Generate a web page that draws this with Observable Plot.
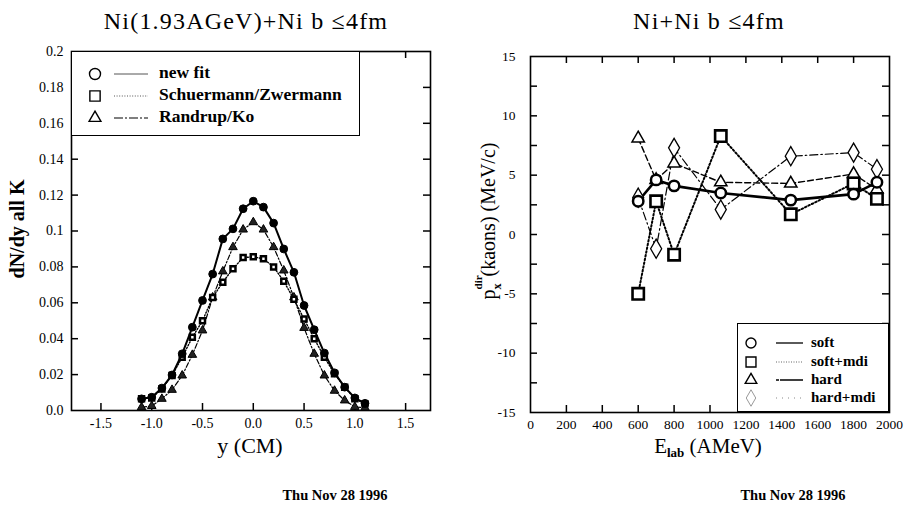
<!DOCTYPE html>
<html>
<head>
<meta charset="utf-8">
<script src="https://cdn.jsdelivr.net/npm/d3@7"></script>
<script src="https://cdn.jsdelivr.net/npm/@observablehq/plot@0.6"></script>
<style>
  body { margin: 0; background: #fff; }
  #wrap { position: relative; width: 908px; height: 505px; overflow: hidden;
          font-family: "Liberation Serif", "Times New Roman", serif; color: #000; }
  .abs { position: absolute; white-space: nowrap; line-height: 1; }
  .plot { position: absolute; top: 0; }
  .legend { position: absolute; border: 1.5px solid #000; background: #fff; box-sizing: border-box; }
  .legend .t { position: absolute; white-space: nowrap; line-height: 1; font-weight: bold; }
  .legend svg { position: absolute; left: 0; top: 0; overflow: visible; }
</style>
</head>
<body>
<div id="wrap"></div>
<script>
// ---------- Left panel data: dN/dy of all kaons vs rapidity y (CM) ----------
const leftY = [-1.1, -1.0, -0.9, -0.8, -0.7, -0.6, -0.5, -0.4, -0.3, -0.2, -0.1, 0.0,
               0.1, 0.2, 0.3, 0.4, 0.5, 0.6, 0.7, 0.8, 0.9, 1.0, 1.1];
const newFit = [0.0065, 0.0074, 0.0125, 0.0198, 0.0316, 0.0464, 0.0613, 0.0760, 0.0956, 0.1012, 0.1124, 0.1166,
                0.1133, 0.1044, 0.0900, 0.0770, 0.0585, 0.0450, 0.0320, 0.0210, 0.0130, 0.0070, 0.0040];
const schuermann = [0.0065, 0.0070, 0.0120, 0.0195, 0.0297, 0.0408, 0.0500, 0.0630, 0.0715, 0.0790, 0.0852, 0.0856,
                    0.0845, 0.0800, 0.0720, 0.0620, 0.0510, 0.0400, 0.0297, 0.0204, 0.0130, 0.0065, 0.0037];
const randrup = [0.0018, 0.0025, 0.0065, 0.0115, 0.0195, 0.0310, 0.0446, 0.0630, 0.0775, 0.0910, 0.1008, 0.1049,
                 0.1008, 0.0910, 0.0780, 0.0630, 0.0460, 0.0316, 0.0195, 0.0110, 0.0056, 0.0020, 0.0015];
const leftXTicks = [-1.5, -1.0, -0.5, 0.0, 0.5, 1.0, 1.5];
const leftXTickLabels = ["-1.5", "-1.0", "-0.5", "0.0", "0.5", "1.0", "1.5"];
const leftYTicks = [0, 0.02, 0.04, 0.06, 0.08, 0.1, 0.12, 0.14, 0.16, 0.18, 0.2];
const leftYTickLabels = ["0.0", "0.02", "0.04", "0.06", "0.08", "0.1", "0.12", "0.14", "0.16", "0.18", "0.2"];
const leftLegend = ["new fit", "Schuermann/Zwermann", "Randrup/Ko"];

// ---------- Right panel data: directed flow px of kaons vs beam energy ----------
const energies = [600, 700, 800, 1060, 1450, 1800, 1930];
const soft     = [2.8, 4.6, 4.1, 3.5, 2.9, 3.4, 4.4];
const softMdi  = [-5.0, 2.8, -1.7, 8.3, 1.7, 4.3, 3.0];
const hard     = [8.1, 4.6, 6.0, 4.4, 4.3, 5.1, 3.8];
const hardMdi  = [3.1, -1.2, 7.3, 2.1, 6.6, 6.9, 5.5];
const rightXTicks = [0, 200, 400, 600, 800, 1000, 1200, 1400, 1600, 1800, 2000];
const rightXTickLabels = ["0", "200", "400", "600", "800", "1000", "1200", "1400", "1600", "1800", "2000"];
const rightYTicks = [-15, -10, -5, 0, 5, 10, 15];
const rightYTickLabels = ["-15", "-10", "-5", "0", "5", "10", "15"];
const rightYMinor = [-12.5, -7.5, -2.5, 2.5, 7.5, 12.5];
const rightLegend = ["soft", "soft+mdi", "hard", "hard+mdi"];

// ---------- helpers ----------
const zip = (xs, vs, key) => xs.map((x, i) => ({x, v: vs[i], key}));
const lookup = (ticks, labels) => d => {
  const i = ticks.findIndex(t => Math.abs(t - d) < 1e-9);
  return i >= 0 ? labels[i] : "";
};
// short inward tick marks on all four sides of the frame (length given in pixels, converted to data units)
function inwardTicks(xt, yt, xd, yd, w, h, len) {
  const o = {stroke: "#000", strokeWidth: 1.5};
  const dy = (yd[1] - yd[0]) * len / h;
  const dx = (xd[1] - xd[0]) * len / w;
  const xin = xt.filter(t => t > xd[0] && t < xd[1]);
  const yin = yt.filter(t => t > yd[0] && t < yd[1]);
  return [
    Plot.ruleX(xin, {x: d => d, y1: yd[0], y2: yd[0] + dy, ...o}),
    Plot.ruleX(xin, {x: d => d, y1: yd[1] - dy, y2: yd[1], ...o}),
    Plot.ruleY(yin, {y: d => d, x1: xd[0], x2: xd[0] + dx, ...o}),
    Plot.ruleY(yin, {y: d => d, x1: xd[1] - dx, x2: xd[1], ...o})
  ];
}
const wrap = document.getElementById("wrap");
function addText(html, left, top, size, opts = {}) {
  const d = document.createElement("div");
  d.className = "abs";
  d.innerHTML = html;
  d.style.left = left + "px";
  d.style.top = top + "px";
  d.style.fontSize = size + "px";
  if (opts.weight) d.style.fontWeight = opts.weight;
  if (opts.center) d.style.transform = "translateX(-50%)";
  if (opts.rotate) d.style.transform = "translate(-50%,-50%) rotate(-90deg)";
  if (opts.spacing) d.style.letterSpacing = opts.spacing + "px";
  wrap.appendChild(d);
  return d;
}

// ---------- Left plot ----------
const nf = zip(leftY, newFit, leftLegend[0]);
const sz = zip(leftY, schuermann, leftLegend[1]);
const rk = zip(leftY, randrup, leftLegend[2]);
const tickFont = {fontSize: 14, fill: "#000"};
const L = {width: 454, height: 470, ml: 71, mr: 24, mt: 51, mb: 60, xd: [-1.79, 1.745], yd: [0, 0.2]};

const left = Plot.plot({
  width: L.width, height: L.height,
  marginLeft: L.ml, marginRight: L.mr, marginTop: L.mt, marginBottom: L.mb,
  x: {domain: L.xd},
  y: {domain: L.yd},
  style: {fontFamily: "Liberation Serif, serif", color: "#000", background: "transparent", overflow: "visible"},
  marks: [
    Plot.axisX(leftXTicks, {anchor: "bottom", tickSize: 0, tickPadding: 8, label: null,
      tickFormat: lookup(leftXTicks, leftXTickLabels), ...tickFont}),
    Plot.axisY(leftYTicks, {anchor: "left", tickSize: 0, tickPadding: 8, label: null,
      tickFormat: lookup(leftYTicks, leftYTickLabels), ...tickFont}),
    ...inwardTicks(leftXTicks, leftYTicks, L.xd, L.yd, L.width - L.ml - L.mr, L.height - L.mt - L.mb, 7),
    Plot.line(rk, {x: "x", y: "v", stroke: "#000", strokeWidth: 1.2, strokeDasharray: "5,2,1.5,2"}),
    Plot.line(sz, {x: "x", y: "v", stroke: "#000", strokeWidth: 1.4, strokeDasharray: "1.3,1.8"}),
    Plot.line(nf, {x: "x", y: "v", stroke: "#000", strokeWidth: 2}),
    Plot.dot(rk, {x: "x", y: "v", symbol: "triangle", r: 3.2, fill: "#222", stroke: "#000", strokeWidth: 1}),
    Plot.dot(sz, {x: "x", y: "v", symbol: "square", r: 2.8, fill: "#fff", stroke: "#000", strokeWidth: 2.5}),
    Plot.dot(nf, {x: "x", y: "v", symbol: "circle", r: 3.9, fill: "#000", stroke: "#000", strokeWidth: 1}),
    Plot.frame({stroke: "#000", strokeWidth: 1.6})
  ]
});
left.classList.add("plot");
left.style.left = "0px";
wrap.appendChild(left);

// ---------- Right plot ----------
const so = zip(energies, soft, rightLegend[0]);
const sm = zip(energies, softMdi, rightLegend[1]);
const ha = zip(energies, hard, rightLegend[2]);
const hm = zip(energies, hardMdi, rightLegend[3]);
const R = {width: 454, height: 470, ml: 76, mr: 19, mt: 56, mb: 58, xd: [0, 2000], yd: [-15, 15]};

const right = Plot.plot({
  width: R.width, height: R.height,
  marginLeft: R.ml, marginRight: R.mr, marginTop: R.mt, marginBottom: R.mb,
  x: {domain: R.xd},
  y: {domain: R.yd},
  style: {fontFamily: "Liberation Serif, serif", color: "#000", background: "transparent", overflow: "visible"},
  marks: [
    Plot.axisX(rightXTicks, {anchor: "bottom", tickSize: 0, tickPadding: 7, label: null,
      tickFormat: lookup(rightXTicks, rightXTickLabels), fontSize: 13.5, fill: "#000"}),
    Plot.axisY(rightYTicks, {anchor: "left", tickSize: 0, tickPadding: 15, label: null,
      tickFormat: lookup(rightYTicks, rightYTickLabels), fontSize: 13.5, fill: "#000"}),
    ...inwardTicks(rightXTicks, rightYTicks.concat(rightYMinor), R.xd, R.yd,
                   R.width - R.ml - R.mr, R.height - R.mt - R.mb, 7),
    Plot.line(hm, {x: "x", y: "v", stroke: "#000", strokeWidth: 1.2, strokeDasharray: "8,3,1.5,3"}),
    Plot.line(ha, {x: "x", y: "v", stroke: "#000", strokeWidth: 1.4, strokeDasharray: "6,3"}),
    Plot.line(sm, {x: "x", y: "v", stroke: "#000", strokeWidth: 2, strokeDasharray: "1.6,2.2"}),
    Plot.line(so, {x: "x", y: "v", stroke: "#000", strokeWidth: 2.6}),
    Plot.dot(hm, {x: "x", y: "v", symbol: "diamond", r: 5.8, fill: "#fff", stroke: "#000", strokeWidth: 1.3}),
    Plot.dot(ha, {x: "x", y: "v", symbol: "triangle", r: 4.6, fill: "#fff", stroke: "#000", strokeWidth: 1.5}),
    Plot.dot(sm, {x: "x", y: "v", symbol: "square", r: 6.4, fill: "#fff", stroke: "#000", strokeWidth: 2.6}),
    Plot.dot(so, {x: "x", y: "v", symbol: "circle", r: 5.2, fill: "#fff", stroke: "#000", strokeWidth: 2.5}),
    Plot.frame({stroke: "#000", strokeWidth: 1.6})
  ]
});
right.classList.add("plot");
right.style.left = "454px";
wrap.appendChild(right);

// ---------- Titles, axis labels, footers ----------
addText("Ni(1.93AGeV)+Ni b \u22644fm", 246, 9, 24, {center: true, spacing: 1.2});
addText("Ni+Ni b \u22644fm", 709, 9, 24, {center: true, spacing: 1.2});
addText("y (CM)", 250, 435, 22, {center: true});
addText("E<sub style=\"font-size:13px;font-weight:bold;vertical-align:-4px\">lab</sub> (AMeV)", 708, 436, 21, {center: true});
addText("dN/dy all K", 17, 229, 20, {rotate: true, weight: "bold"});
addText("p<span style=\"display:inline-block;position:relative;width:8px;height:10px\">" +
        "<span style=\"position:absolute;left:0;top:6px;font-size:12px;font-weight:bold\">x</span>" +
        "<span style=\"position:absolute;left:0;top:-12px;font-size:11px;font-weight:bold\">dir</span></span>" +
        "&nbsp;(kaons) (MeV/c)", 488, 221, 20, {rotate: true});
addText("Thu Nov 28 1996", 335, 488, 14.5, {center: true, weight: "bold"});
addText("Thu Nov 28 1996", 793, 488, 14.5, {center: true, weight: "bold"});

// ---------- Legends ----------
function legend(box, entries, cfg) {
  const d = document.createElement("div");
  d.className = "legend";
  Object.assign(d.style, {left: box.x + "px", top: box.y + "px", width: box.w + "px", height: box.h + "px"});
  const ns = "http://www.w3.org/2000/svg";
  const svg = document.createElementNS(ns, "svg");
  svg.setAttribute("width", box.w);
  svg.setAttribute("height", box.h);
  entries.forEach((e, i) => {
    const cy = cfg.rows[i];
    const p = document.createElementNS(ns, "path");
    const sym = d3.symbol(e.sym, Math.PI * e.r * e.r)();
    p.setAttribute("d", sym);
    p.setAttribute("transform", `translate(${cfg.sx},${cy})`);
    p.setAttribute("fill", "none");
    p.setAttribute("stroke", e.symStroke || "#000");
    p.setAttribute("stroke-width", e.sw || 1.4);
    svg.appendChild(p);
    const l = document.createElementNS(ns, "line");
    l.setAttribute("x1", cfg.l1); l.setAttribute("x2", cfg.l2);
    l.setAttribute("y1", cy); l.setAttribute("y2", cy);
    l.setAttribute("stroke", e.lineStroke || "#000");
    l.setAttribute("stroke-width", e.lw || 1);
    if (e.dash) l.setAttribute("stroke-dasharray", e.dash);
    svg.appendChild(l);
    const t = document.createElement("div");
    t.className = "t";
    t.textContent = e.label;
    t.style.left = cfg.tx + "px";
    t.style.top = (cy - cfg.fs * 0.55) + "px";
    t.style.fontSize = cfg.fs + "px";
    d.appendChild(t);
  });
  d.appendChild(svg);
  wrap.appendChild(d);
}
legend({x: 71, y: 51, w: 289, h: 85}, [
  {label: leftLegend[0], sym: d3.symbolCircle, r: 5.5, lw: 1, lineStroke: "#555"},
  {label: leftLegend[1], sym: d3.symbolSquare, r: 5.8, dash: "1,1.6", lineStroke: "#555"},
  {label: leftLegend[2], sym: d3.symbolTriangle, r: 4.4, dash: "9,2,2,2", lw: 1.2}
], {sx: 23, l1: 42, l2: 76, tx: 87, fs: 17.5, rows: [22, 44, 66]});

legend({x: 737, y: 323, w: 152, h: 89}, [
  {label: rightLegend[0], sym: d3.symbolCircle, r: 5, lw: 1.3},
  {label: rightLegend[1], sym: d3.symbolSquare, r: 5.6, dash: "1,1.5", lineStroke: "#666"},
  {label: rightLegend[2], sym: d3.symbolTriangle, r: 4.3, dash: "3,1,20,0", lw: 1.3},
  {label: rightLegend[3], sym: d3.symbolDiamond, r: 5, dash: "1,5", lineStroke: "#888", symStroke: "#999", sw: 1}
], {sx: 13, l1: 38, l2: 65, tx: 73, fs: 15, rows: [19, 38, 56, 74]});
</script>
</body>
</html>
